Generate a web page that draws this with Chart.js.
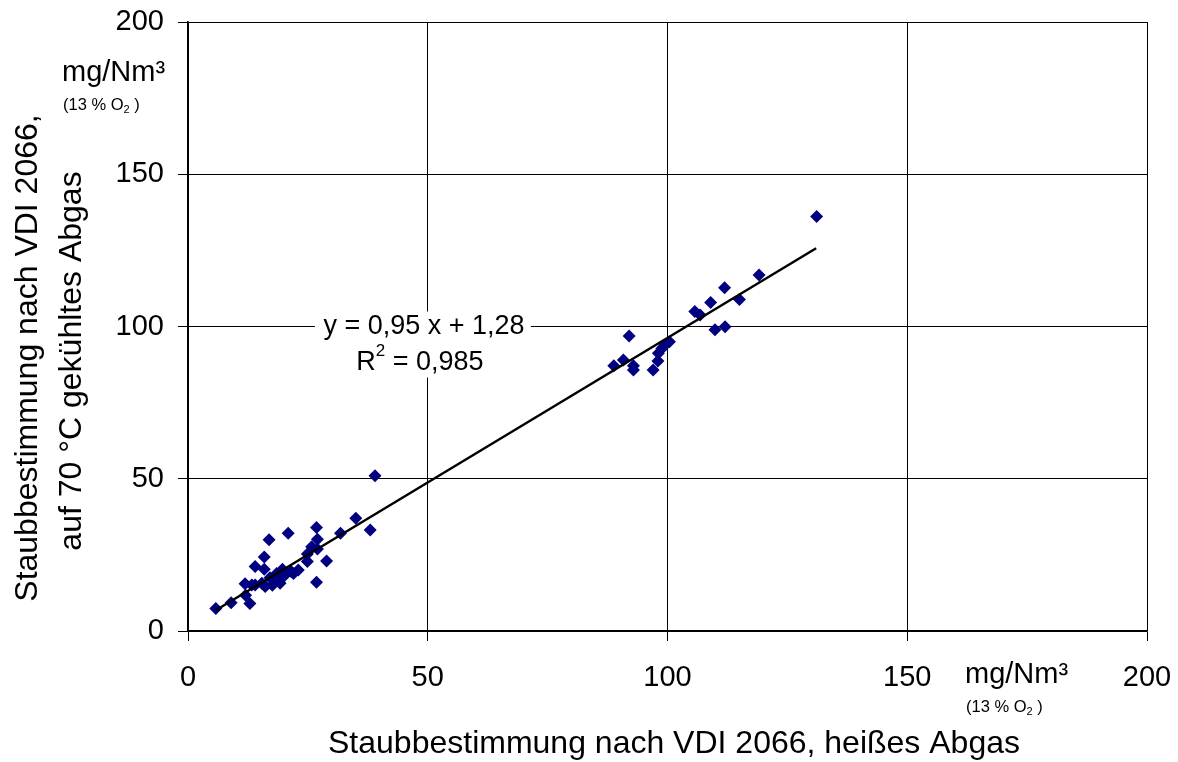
<!DOCTYPE html>
<html>
<head>
<meta charset="utf-8">
<script src="https://cdn.jsdelivr.net/npm/chart.js@4"></script>
<style>
  body { margin: 0; background: #ffffff; }
  canvas { display: block; }
</style>
</head>
<body>
<canvas id="chart" width="1178" height="762"></canvas>
<script>
// Messwerte: heißes Abgas (x) gegen gekühltes Abgas (y), mg/Nm³ bei 13 % O2
const heissWerte = [
  5.8, 9.0, 12.9, 12.0, 11.9, 13.3, 14.0, 14.0, 15.4, 15.9,
  16.9, 15.9, 16.1, 17.1, 17.6, 18.1, 18.5, 19.2, 19.7, 20.0,
  21.5, 20.9, 22.0, 23.0, 24.9, 24.9, 26.8, 27.0, 27.0, 25.8,
  26.8, 28.9, 31.8, 35.0, 38.0, 39.0,
  88.8, 90.8, 92.0, 92.9, 92.9, 97.0, 98.0, 98.1, 98.8, 99.5,
  100.4, 105.7, 106.8, 109.0, 109.9, 112.0, 111.9, 115.0, 119.1, 131.1
];
const gekuehltWerte = [
  7.4, 9.3, 9.0, 11.7, 15.5, 15.1, 21.2, 15.1, 15.7, 24.3,
  30.0, 20.3, 14.6, 17.5, 15.0, 16.7, 18.9, 15.7, 20.3, 18.0,
  19.5, 32.1, 18.9, 20.0, 25.3, 22.8, 34.0, 30.1, 26.9, 27.7,
  16.0, 23.0, 32.1, 37.0, 33.2, 51.0,
  87.1, 89.0, 96.9, 87.1, 85.7, 85.7, 88.7, 91.2, 92.8, 93.9,
  95.0, 104.9, 103.8, 107.9, 98.9, 99.9, 112.7, 108.9, 116.9, 136.1
];

// Regressionsgerade, Endpunkte aus dem Bild
const trendX = [5.8, 131];
const trendY = [6.8, 125.7];

const tickWerte = [0, 50, 100, 150, 200];
const gleichungText = 'y = 0,95 x + 1,28';
const bestimmtheitText = '= 0,985';
const xTitel = 'Staubbestimmung nach VDI 2066, heißes Abgas';
const yTitel = ['Staubbestimmung nach VDI 2066,', 'auf 70 °C gekühltes Abgas'];
const einheit = 'mg/Nm³';

const FONT = '"Liberation Sans", Arial, sans-serif';

const punkte = heissWerte.map((x, i) => ({ x: x, y: gekuehltWerte[i] }));
const trendPunkte = trendX.map((x, i) => ({ x: x, y: trendY[i] }));

// Einheit mit tiefgestellter 2 zeichnen
const zeichneEinheit = (ctx, x, y) => {
  ctx.fillStyle = '#000';
  ctx.textAlign = 'left';
  ctx.textBaseline = 'alphabetic';
  ctx.font = '29px ' + FONT;
  ctx.fillText(einheit, x, y);
  ctx.font = '16.5px ' + FONT;
  let sx = x + 1;
  const sy = y + 29;
  const teil1 = '(13 % O';
  ctx.fillText(teil1, sx, sy);
  sx += ctx.measureText(teil1).width;
  ctx.font = '11px ' + FONT;
  ctx.fillText('2', sx, sy + 3);
  sx += ctx.measureText('2').width;
  ctx.font = '16.5px ' + FONT;
  ctx.fillText(' )', sx, sy);
};

const beschriftung = {
  id: 'beschriftung',
  afterDraw(chart) {
    const ctx = chart.ctx;
    const xs = chart.scales.x;
    const ys = chart.scales.y;
    ctx.save();

    // Gleichung mit weißem Hintergrund
    const cx = xs.getPixelForValue(49);
    const cy = ys.getPixelForValue(100);
    ctx.fillStyle = '#fff';
    ctx.fillRect(cx - 108, cy - 15, 216, 66);
    ctx.fillStyle = '#000';
    ctx.font = '27px ' + FONT;
    ctx.textAlign = 'center';
    ctx.textBaseline = 'middle';
    ctx.fillText(gleichungText, cx + 1, cy);
    // R² = 0,985
    ctx.textAlign = 'left';
    const rBreite = ctx.measureText('R').width;
    const restBreite = ctx.measureText(' ' + bestimmtheitText).width;
    ctx.font = '17px ' + FONT;
    const hochBreite = ctx.measureText('2').width;
    const gesamt = rBreite + hochBreite + restBreite;
    let rx = cx - 3 - gesamt / 2;
    const ry = cy + 36;
    ctx.font = '27px ' + FONT;
    ctx.fillText('R', rx, ry);
    rx += rBreite;
    ctx.font = '17px ' + FONT;
    ctx.fillText('2', rx, ry - 11);
    rx += hochBreite;
    ctx.font = '27px ' + FONT;
    ctx.fillText(' ' + bestimmtheitText, rx, ry);

    // Achsentitel
    ctx.font = '32px ' + FONT;
    ctx.textAlign = 'center';
    ctx.textBaseline = 'middle';
    ctx.fillText(xTitel, 674, 744);
    ctx.save();
    ctx.translate(28, 358);
    ctx.rotate(-Math.PI / 2);
    ctx.fillText(yTitel[0], 0, 0);
    ctx.restore();
    ctx.save();
    ctx.translate(72, 361);
    ctx.rotate(-Math.PI / 2);
    ctx.fillText(yTitel[1], 0, 0);
    ctx.restore();

    // Einheiten
    zeichneEinheit(ctx, 62, 81);
    zeichneEinheit(ctx, 965, 683);

    ctx.restore();
  }
};

new Chart(document.getElementById('chart'), {
  type: 'scatter',
  data: {
    datasets: [
      {
        label: 'Messwerte',
        data: punkte,
        pointStyle: 'rectRot',
        pointRadius: 6.5,
        pointBorderWidth: 0,
        backgroundColor: '#000080',
        borderColor: '#000080',
        order: 2
      },
      {
        type: 'line',
        label: 'Trend',
        data: trendPunkte,
        borderColor: '#000',
        borderWidth: 2.5,
        pointRadius: 0,
        fill: false,
        order: 1
      }
    ]
  },
  options: {
    responsive: false,
    animation: false,
    layout: { padding: { left: 0, right: 31, top: 22, bottom: 0 } },
    plugins: {
      legend: { display: false },
      tooltip: { enabled: false }
    },
    scales: {
      x: {
        type: 'linear',
        min: 0,
        max: 200,
        afterBuildTicks: (s) => { s.ticks = tickWerte.map(v => ({ value: v })); },
        afterFit: (s) => {
          s.height = 131;
          s.paddingLeft = 0;
          s.paddingRight = 0;
        },
        ticks: {
          color: '#000',
          font: { family: FONT, size: 29 },
          padding: 20,
          maxRotation: 0
        },
        grid: { color: '#000', lineWidth: 1, tickLength: 10, tickColor: '#000' },
        border: { color: '#000', width: 1.5 }
      },
      y: {
        type: 'linear',
        min: 0,
        max: 200,
        afterBuildTicks: (s) => { s.ticks = tickWerte.map(v => ({ value: v })); },
        afterFit: (s) => {
          s.width = 188;
          s.paddingTop = 0;
          s.paddingBottom = 0;
        },
        ticks: {
          color: '#000',
          font: { family: FONT, size: 29 },
          padding: 14
        },
        grid: { color: '#000', lineWidth: 1, tickLength: 10, tickColor: '#000' },
        border: { color: '#000', width: 1.5 }
      }
    }
  },
  plugins: [beschriftung]
});
</script>
</body>
</html>
